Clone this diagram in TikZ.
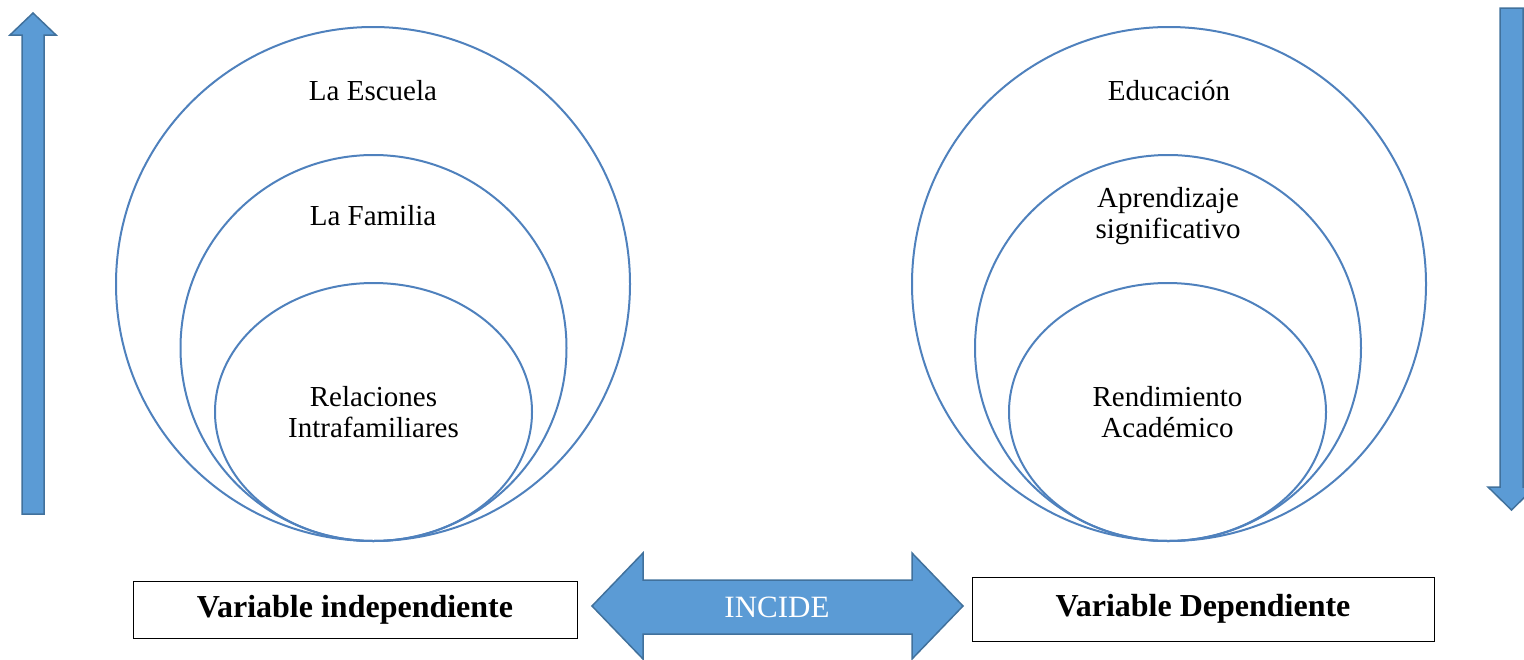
\documentclass[tikz,border=0pt]{standalone}
\usepackage{fontspec}
\setmainfont{Liberation Serif}
\usetikzlibrary{shapes.geometric}
\definecolor{ringblue}{HTML}{4F81BD}
\definecolor{arrowfill}{HTML}{5B9BD5}
\definecolor{arrowline}{HTML}{41719C}
\tikzset{
  ring/.style={draw=ringblue, line width=2pt, circle, inner sep=0pt},
  oval/.style={draw=ringblue, line width=2pt, ellipse, inner sep=0pt},
  lbl/.style={font=\fontsize{29}{31}\selectfont, align=center, inner sep=0pt},
  varbox/.style={draw=black, line width=1pt, inner sep=0pt, font=\fontsize{32}{34}\selectfont\bfseries},
  blockarrow/.style={fill=arrowfill, draw=arrowline, line width=1.5pt, line join=miter}
}
\begin{document}
\begin{tikzpicture}[x=1pt,y=-1pt]
\useasboundingbox (0,0) rectangle (1524,659);
% left nest
\node[ring, minimum size=514pt] (lout) at (373,284) {};
\node[ring, minimum size=386pt] (lmid) at (373.5,348) {};
\node[oval, minimum width=317pt, minimum height=258pt] (lin) at (373.5,412) {};
\node[lbl] (t1) at (373,91) {La Escuela};
\node[lbl] (t2) at (373,216) {La Familia};
\node[lbl] (t3) at (373.5,412) {Relaciones\\Intrafamiliares};
% right nest
\node[ring, minimum size=514pt] (rout) at (1169,284) {};
\node[ring, minimum size=386pt] (rmid) at (1168,348) {};
\node[oval, minimum width=317pt, minimum height=258pt] (rin) at (1167.5,412) {};
\node[lbl] (t4) at (1169,91) {Educación};
\node[lbl] (t5) at (1168,216) {Aprendizaje\\significativo};
\node[lbl] (t6) at (1167.5,412) {Rendimiento\\Académico};
% boxes
\node[varbox, minimum width=444pt, minimum height=57pt] (vi) at (355,609.5) {Variable independiente};
\node[varbox, minimum width=462pt, minimum height=64pt] (vd) at (1203,609) {Variable Dependiente};
% double arrow
\draw[blockarrow] (592,606) -- (643,553) -- (643,580) -- (912,580) -- (912,553) -- (963,606)
  -- (912,659) -- (912,634) -- (643,634) -- (643,659) -- cycle;
\node[font=\fontsize{31}{33}\selectfont, text=white, inner sep=0pt] (inc) at (777,607) {INCIDE};
% up arrow left
\draw[blockarrow] (22,514) -- (22,35) -- (10,35) -- (33,13) -- (56,35) -- (44,35) -- (44,514) -- cycle;
% down arrow right
\draw[blockarrow] (1500,8) -- (1523,8) -- (1523,487) -- (1535,487) -- (1511.5,510) -- (1488,487) -- (1500,487) -- cycle;
\end{tikzpicture}
\end{document}
